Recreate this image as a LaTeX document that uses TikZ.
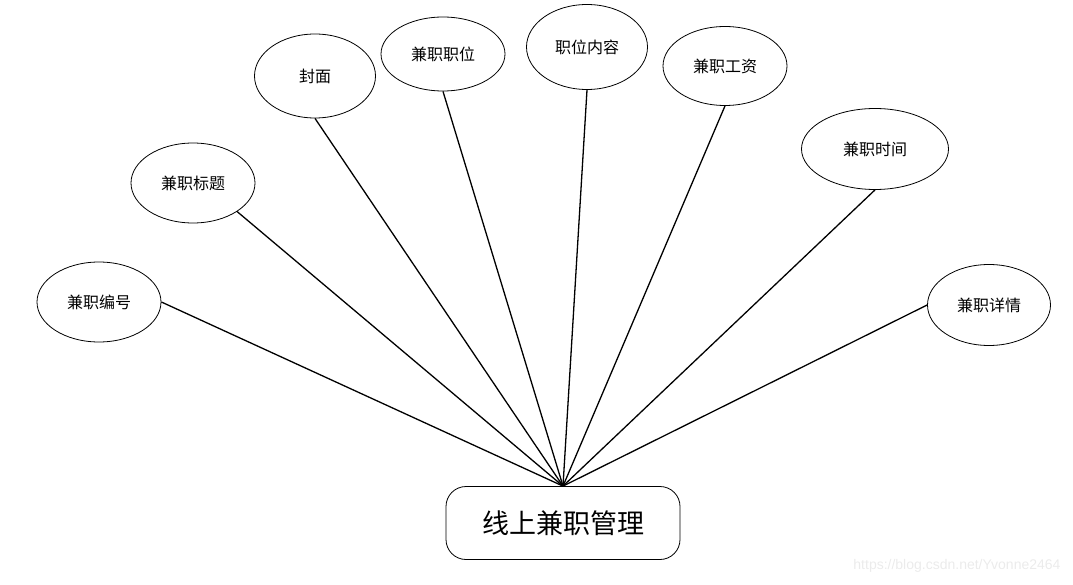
\documentclass[tikz,border=0pt]{standalone}
\usepackage{fontspec}
\usepackage{tikz}
\usetikzlibrary{shapes.geometric}
\newfontfamily\cjk{Noto Sans CJK SC}
\setsansfont{Liberation Sans}
\tikzset{
  attr/.style={ellipse, draw, line width=0.8pt, minimum width=124pt, minimum height=80pt, inner sep=0pt, font=\cjk\fontsize{16}{19}\selectfont},
  entity/.style={rectangle, rounded corners=20pt, draw, line width=0.8pt, minimum width=234pt, minimum height=73pt, font=\cjk\fontsize{27}{32}\selectfont},
  link/.style={line width=1.3pt}
}
\begin{document}
\begin{tikzpicture}[x=1pt,y=-1pt]
    \useasboundingbox (0,0) rectangle (1073,585);
    \node [entity] (box) at (563,523) {线上兼职管理};
    \node [attr] (bianhao) at (99,302) {兼职编号};
    \node [attr] (biaoti) at (193,183) {兼职标题};
    \node [attr, minimum width=121pt, minimum height=84pt] (fengmian) at (315,76) {封面};
    \node [attr, minimum height=74pt] (zhiwei) at (443,54) {兼职职位};
    \node [attr, minimum width=121pt, minimum height=85pt] (neirong) at (587,47) {职位内容};
    \node [attr, minimum height=79pt] (gongzi) at (725,66) {兼职工资};
    \node [attr, minimum width=147pt, minimum height=81pt] (shijian) at (875,149) {兼职时间};
    \node [attr, minimum width=123pt, minimum height=81pt] (xiangqing) at (989,305) {兼职详情};
    \draw [link] (bianhao.east)--(box.north);
    \draw [link] (biaoti.south east)--(box.north);
    \draw [link] (fengmian.south)--(box.north);
    \draw [link] (zhiwei.south)--(box.north);
    \draw [link] (neirong.south)--(box.north);
    \draw [link] (gongzi.south)--(box.north);
    \draw [link] (shijian.south)--(box.north);
    \draw [link] (xiangqing.west)--(box.north);
    \node [text=black!8, font=\sffamily\fontsize{14}{16}\selectfont, anchor=east] (mark) at (1064,566) {https://blog.csdn.net/Yvonne2464};
\end{tikzpicture}
\end{document}
